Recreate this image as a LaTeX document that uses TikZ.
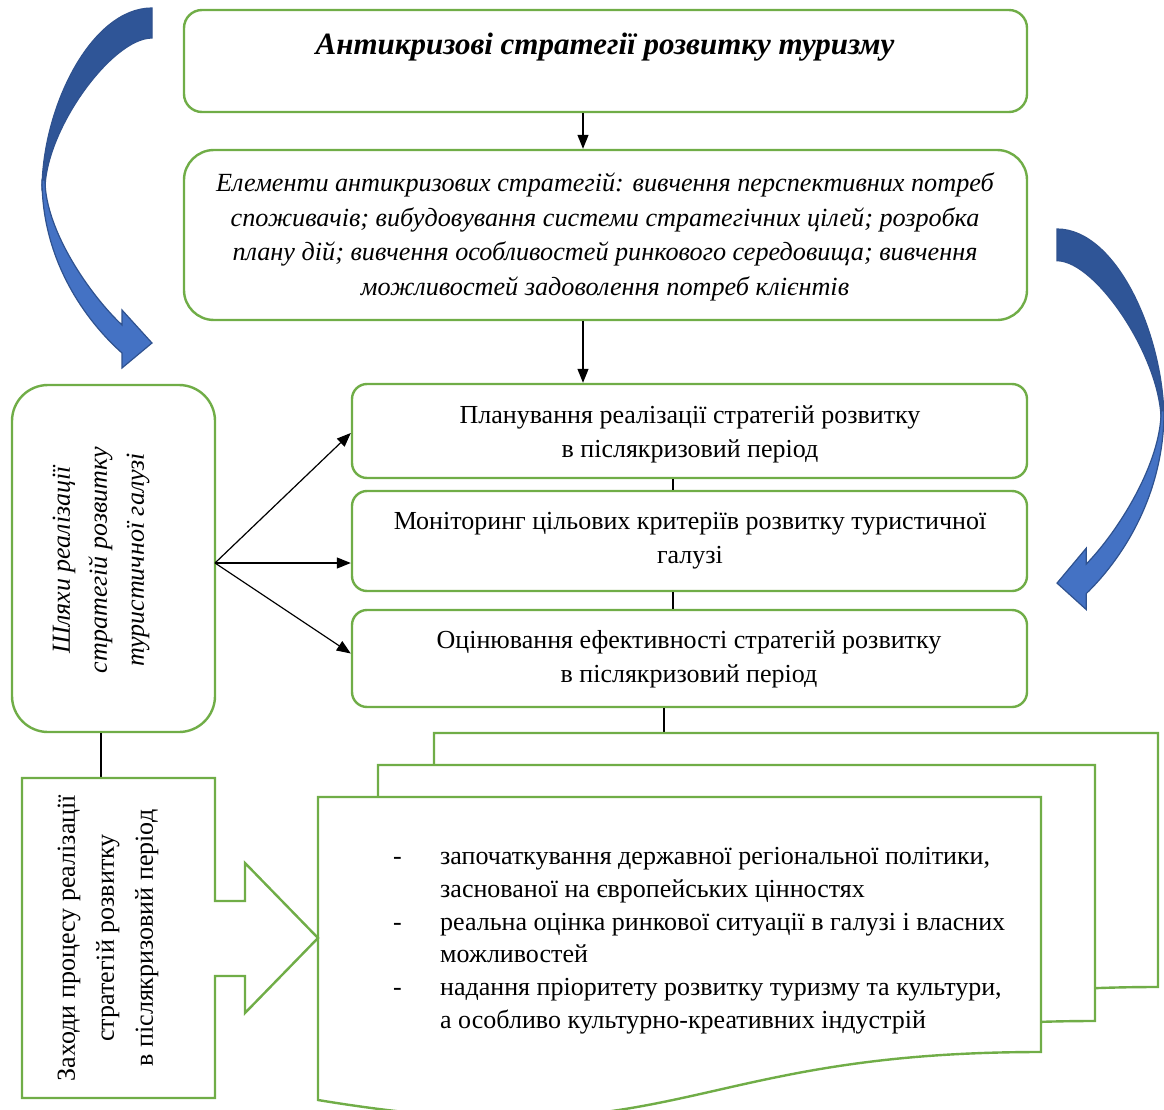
\documentclass[tikz,border=0pt]{standalone}
\usepackage{fontspec}
\setmainfont{Liberation Serif}
\usetikzlibrary{arrows.meta}
\definecolor{grn}{RGB}{112,173,71}
\definecolor{bdark}{RGB}{47,85,151}
\definecolor{blight}{RGB}{68,114,196}
\definecolor{bline}{RGB}{47,82,143}
\newcommand{\mycurvearrow}{%
 \path[fill=bdark, draw=bline, line width=1.2pt] (0,0) -- (0,30) .. controls (40,30) and (107,122) .. (107,182) -- (110,182) .. controls (110,100) and (61,0) .. (0,0) -- cycle;
 \path[fill=blight, draw=bline, line width=1.2pt] (110,172) .. controls (110,252) and (67,312) .. (30,345) -- (30,360) -- (0,335) -- (30,302) -- (30,317) .. controls (62,287) and (107,222) .. (107,172) -- cycle;
}
\begin{document}
\begin{tikzpicture}[x=1pt,y=-1pt,
  gbox/.style={draw=grn, line width=2.4pt, fill=white, inner sep=0pt},
  txt/.style={font=\fontsize{26}{34.5}\selectfont, align=center, inner sep=0pt},
  arr/.style={-{Triangle[length=14pt,width=11pt]}, line width=1.2pt},
  ln/.style={line width=1.2pt}]
\useasboundingbox (0,0) rectangle (1164,1110);
\clip (0,0) rectangle (1164,1110);

% coordinates
\coordinate (xa) at (583,0);
\coordinate (xcd) at (673,0);
\coordinate (fo) at (215,563);
\coordinate (dtop) at (664,733);
\coordinate (fg) at (101,0);
\coordinate (gtop) at (101,778);

% boxes
\node[gbox, rounded corners=18pt, minimum width=843pt, minimum height=102pt] (A) at (605.5,61) {};
\node[gbox, rounded corners=30pt, minimum width=843pt, minimum height=170pt] (B) at (605.5,235) {};
\node[gbox, rounded corners=15pt, minimum width=675pt, minimum height=94pt] (C) at (689.5,431) {};
\node[gbox, rounded corners=15pt, minimum width=675pt, minimum height=100pt] (D) at (689.5,541) {};
\node[gbox, rounded corners=15pt, minimum width=675pt, minimum height=97pt] (E) at (689.5,658.5) {};
\node[gbox, rounded corners=36pt, minimum width=203pt, minimum height=347pt] (F) at (113.5,558.5) {};

% connectors
\draw[arr] (xa |- A.south) -- (xa |- B.north);
\draw[arr] (xa |- B.south) -- (xa |- C.north);
\draw[ln] (xcd |- C.south) -- (xcd |- D.north);
\draw[ln] (xcd |- D.south) -- (xcd |- E.north);
\draw[ln] (dtop |- E.south) -- (dtop);
\draw[ln] (fg |- F.south) -- (gtop);
\draw[arr] (fo) -- ([yshift=-2pt]C.west);
\draw[arr] (fo) -- (D.west |- fo);
\draw[arr] (fo) -- ([yshift=5pt]E.west);

% multidocument
\path[draw=grn, line width=2.4pt, fill=white] (434,733) -- (1158,733) -- (1158,987) .. controls (796,987) and (796,1095) .. (434,1035) -- cycle;
\path[draw=grn, line width=2.4pt, fill=white] (378,765) -- (1095,765) -- (1095,1021) .. controls (736,1021) and (736,1128) .. (378,1068) -- cycle;
\path[draw=grn, line width=2.4pt, fill=white] (318,797) -- (1041,797) -- (1041,1052) .. controls (680,1052) and (680,1160) .. (318,1100) -- cycle;

% callout arrow box
\path[draw=grn, line width=2.4pt, fill=white] (22,778) -- (215,778) -- (215,901) -- (245,901) -- (245,863) -- (318,938) -- (245,1013) -- (245,976) -- (215,976) -- (215,1098) -- (22,1098) -- cycle;

% curved arrows
\begin{scope}[shift={(152,8)}, xscale=-1]
\mycurvearrow
\end{scope}
\begin{scope}[shift={(1057,229)}, xscale=0.973, yscale=1.057]
\mycurvearrow
\end{scope}

% texts
\node[txt, font=\fontsize{31}{36}\selectfont\bfseries\itshape] (At) at (605,47) {Антикризові стратегії розвитку туризму};
\node[txt, font=\fontsize{26.2}{34.5}\selectfont\itshape] (Bt) at (605,237) {Елементи антикризових стратегій: вивчення перспективних потреб\\споживачів; вибудовування системи стратегічних цілей; розробка\\плану дій; вивчення особливостей ринкового середовища; вивчення\\можливостей задоволення потреб клієнтів};
\node[txt, font=\fontsize{26}{34}\selectfont] (Ct) at (690,434) {Планування реалізації стратегій розвитку\\в післякризовий період};
\node[txt, font=\fontsize{26}{34}\selectfont] (Dt) at (690,541) {Моніторинг цільових критеріїв розвитку туристичної\\галузі};
\node[txt, font=\fontsize{26}{34}\selectfont] (Et) at (689,659) {Оцінювання ефективності стратегій розвитку\\в післякризовий період};
\node[txt, rotate=90, font=\fontsize{26}{37}\selectfont\itshape] (Ft) at (101,560) {Шляхи реалізації\\стратегій розвитку\\туристичної галузі};
\node[txt, rotate=90, font=\fontsize{26}{39}\selectfont] (Gt) at (108,938) {Заходи процесу реалізації\\стратегій розвитку\\в післякризовий період};
\node[txt, anchor=west, align=left, font=\fontsize{26}{32.8}\selectfont] (Ht) at (393,940) {%
\begin{tabular}{@{}p{47pt}@{}l@{}}
- & започаткування державної регіональної політики,\\
  & заснованої на європейських цінностях\\
- & реальна оцінка ринкової ситуації в галузі і власних\\
  & можливостей\\
- & надання пріоритету розвитку туризму та культури,\\
  & а особливо культурно-креативних індустрій
\end{tabular}};
\end{tikzpicture}
\end{document}
